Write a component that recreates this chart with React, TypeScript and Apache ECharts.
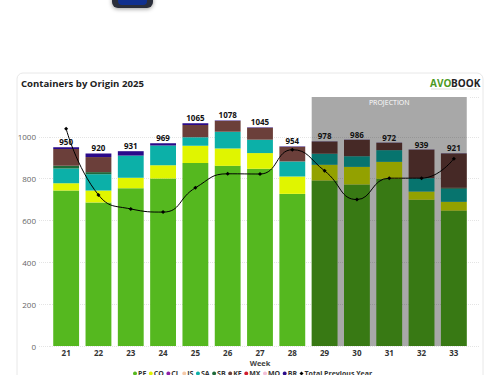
import React, { useEffect, useRef } from "react";
import * as echarts from "echarts";

const weeks = ["21", "22", "23", "24", "25", "26", "27", "28", "29", "30", "31", "32", "33"];
const totals = [950, 920, 931, 969, 1065, 1078, 1045, 954, 978, 986, 972, 939, 921];
const PE = [743, 686, 754, 800, 874, 861, 847, 727, 791, 772, 799, 699, 647];
const CO = [35, 57, 50, 64, 83, 83, 75, 83, 75, 84, 81, 39, 42];
const CL = [0, 0, 0, 0, 0, 0, 0, 0, 0, 0, 0, 0, 0];
const JS = [0, 0, 0, 0, 0, 0, 0, 0, 0, 0, 0, 0, 0];
const SA = [70, 78, 106, 94, 41, 80, 64, 72, 53, 51, 56, 64, 63];
const SB = [13, 10, 0, 0, 0, 0, 0, 0, 0, 0, 0, 0, 4];
const KE = [80, 72, 0, 0, 58, 52, 57, 70, 58, 78, 35, 136, 164];
const MX = [0, 0, 0, 0, 0, 0, 0, 0, 0, 0, 0, 0, 0];
const MO = [0, 0, 0, 0, 0, 0, 0, 0, 0, 0, 0, 0, 0];
const BR = [9, 17, 21, 11, 9, 2, 2, 2, 1, 1, 1, 1, 1];
const previousYear = [1038, 722, 655, 640, 756, 823, 822, 938, 837, 700, 802, 802, 895];
const projectionWeeks = ["29", "33"];

const origins: [string, number[], string][] = [
  ["PE", PE, "#55b81f"],
  ["CO", CO, "#e0f500"],
  ["CL", CL, "#8e1fa8"],
  ["JS", JS, "#f5c9a8"],
  ["SA", SA, "#0cb0a8"],
  ["SB", SB, "#1f6a3a"],
  ["KE", KE, "#6b3f3a"],
  ["MX", MX, "#d01c2c"],
  ["MO", MO, "#f3bfd8"],
  ["BR", BR, "#2b0a8a"],
];
const FONT = '"Open Sans", sans-serif';

export default function App() {
  const ref = useRef<HTMLDivElement>(null);
  useEffect(() => {
    document.body.style.margin = "0";
    document.body.style.overflow = "hidden";
    const chart = echarts.init(ref.current!, null, { renderer: "svg" });
    const startIdx = weeks.indexOf(projectionWeeks[0]);
    const endIdx = weeks.indexOf(projectionWeeks[1]);
    chart.setOption({
      animation: false,
      backgroundColor: "#fff",
      textStyle: { fontFamily: FONT },
      grid: { left: 50, right: 30, top: 97, bottom: 29, containLabel: false },
      legend: {
        data: [...origins.map((o) => ({ name: o[0], icon: "circle" })), { name: "Total Previous Year", icon: "diamond" }],
        top: 370,
        left: 133,
        itemWidth: 4,
        itemHeight: 4,
        itemGap: 2.5,
        padding: 0,
        textStyle: { fontSize: 7, fontWeight: "bold", color: "#333", padding: [0, 0, 0, -4] },
      },
      xAxis: {
        type: "category",
        data: weeks,
        name: "Week",
        nameLocation: "middle",
        nameGap: 13,
        nameMoveOverlap: false,
        nameTextStyle: { fontSize: 7.5, fontWeight: "bold", color: "#444" },
        axisTick: { show: false },
        axisLine: { show: false },
        axisLabel: { fontSize: 8, fontWeight: "bold", color: "#333", margin: 2 },
      },
      yAxis: [
        {
          type: "value",
          min: 0,
          max: 1190,
          interval: 200,
          axisLabel: { fontSize: 8, color: "#666", margin: 14, showMaxLabel: false, formatter: (v: number) => String(v) },
          axisLine: { show: false },
          axisTick: { show: true, length: 11, lineStyle: { color: "#e4e4e4", type: "dotted" } },
          splitLine: { show: true, showMaxLine: false, lineStyle: { color: "#e4e4e4", type: "dotted" } },
        },
        {
          type: "value",
          min: 0,
          max: 1190,
          interval: 200,
          position: "right",
          axisLabel: { show: false },
          axisLine: { show: false },
          axisTick: { show: true, length: 10, lineStyle: { color: "#e4e4e4", type: "dotted" } },
          splitLine: { show: false },
        },
      ],
      series: [
        ...origins.map(([name, data, color]) => ({
          name,
          type: "bar",
          stack: "origin",
          data,
          barWidth: "80%",
          z: 2,
          itemStyle: { color },
        })),
        {
          name: "Projection",
          type: "custom",
          z: 3,
          silent: true,
          data: [[startIdx, endIdx]],
          encode: { x: 0 },
          renderItem: (params: any, api: any) => {
            const half = api.size([1, 0])[0] * 0.4;
            const x0 = api.coord([startIdx, 0])[0] - half;
            const x1 = api.coord([endIdx, 0])[0] + half;
            const y1 = api.coord([startIdx, 0])[1];
            const y0 = params.coordSys.y;
            return {
              type: "group",
              children: [
                { type: "rect", shape: { x: x0, y: y0, width: x1 - x0, height: y1 - y0 }, style: { fill: "rgba(0,0,0,0.34)" } },
                {
                  type: "text",
                  x: (x0 + x1) / 2,
                  y: y0 + 5,
                  style: { text: "PROJECTION", fill: "#fff", font: `7px ${FONT}`, align: "center", verticalAlign: "middle" },
                },
              ],
            };
          },
        },
        {
          name: "Total Previous Year",
          type: "line",
          data: previousYear,
          smooth: 0.5,
          z: 4,
          symbol: "diamond",
          symbolSize: 4,
          lineStyle: { color: "#000", width: 1 },
          itemStyle: { color: "#000" },
        },
        {
          name: "Total",
          type: "line",
          data: totals,
          z: 5,
          symbol: "circle",
          symbolSize: 1,
          showSymbol: true,
          showAllSymbol: true,
          itemStyle: { color: "transparent" },
          lineStyle: { width: 0, opacity: 0 },
          label: { show: true, position: "top", distance: 1, fontSize: 8, fontWeight: "bold", color: "#111" },
        },
      ],
      graphic: [
        { type: "rect", z: -1, shape: { x: 17, y: 73, width: 466, height: 320, r: 6 }, style: { fill: "#fff", stroke: "#e8e8e8", lineWidth: 1 } },
        { type: "rect", shape: { x: 112, y: -12, width: 41, height: 20, r: 6 }, style: { fill: "#2b2f3a", shadowBlur: 4, shadowColor: "rgba(0,0,0,0.4)", shadowOffsetY: 1 } },
        { type: "rect", shape: { x: 118, y: -10, width: 29, height: 15, r: 4 }, style: { fill: "#10308f" } },
        { type: "text", x: 21, y: 83, style: { text: "Containers by Origin 2025", font: `bold 9.6px ${FONT}`, fill: "#222", verticalAlign: "middle" } },
        { type: "text", x: 430, y: 83, style: { text: "AVO", font: `bold 10px ${FONT}`, fill: "#4c9a1f", verticalAlign: "middle" } },
        { type: "text", x: 451, y: 83, style: { text: "BOOK", font: `bold 10px ${FONT}`, fill: "#222", verticalAlign: "middle" } },
        { type: "line", shape: { x1: 431, y1: 89, x2: 479, y2: 89 }, style: { stroke: "#9aa58f", lineWidth: 0.5, opacity: 0.7 } },
      ],
    });
    return () => chart.dispose();
  }, []);
  return <div ref={ref} style={{ width: 500, height: 375 }} />;
}
